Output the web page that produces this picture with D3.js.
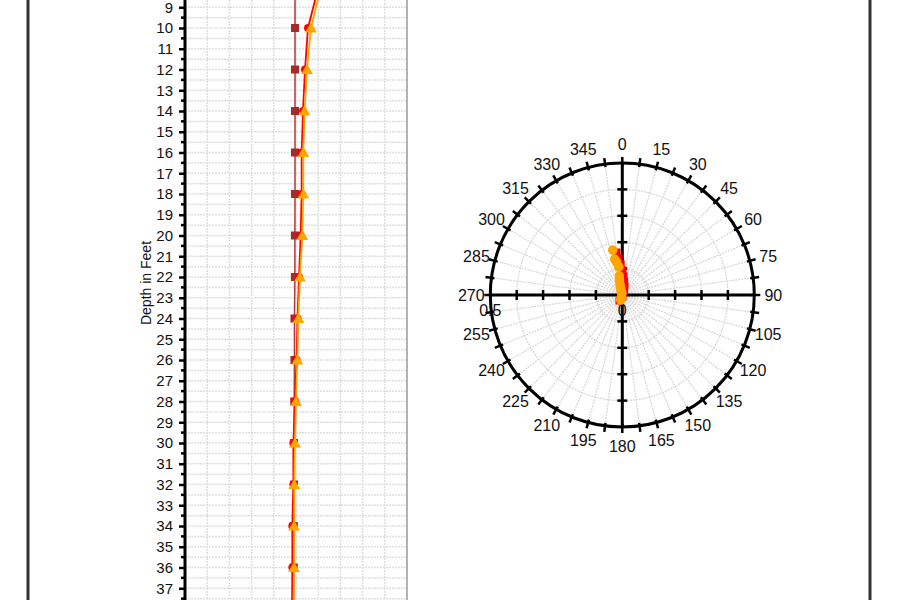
<!DOCTYPE html>
<html>
<head>
<meta charset="utf-8">
<script src="https://cdn.jsdelivr.net/npm/d3@7"></script>
<style>
  body { margin: 0; background: #fff; }
  svg { display: block; font-family: "Liberation Sans", Arial, sans-serif; }
</style>
</head>
<body>
<svg width="900" height="600"></svg>
<script>
// depth profile data (feet / inches)
const depths = [8, 10, 12, 14, 16, 18, 20, 22, 24, 26, 28, 30, 32, 34, 36, 38];
const initialReading = [-0.009, -0.009, -0.009, -0.009, -0.009, -0.009, -0.01, -0.01, -0.014, -0.014, -0.016, -0.018, -0.018, -0.02, -0.02, -0.02];
const readingA = [0.203, 0.108, 0.081, 0.063, 0.051, 0.051, 0.042, 0.027, 0.014, 0.005, -0.009, -0.024, -0.024, -0.033, -0.033, -0.036];
const readingB = [0.225, 0.135, 0.099, 0.077, 0.066, 0.066, 0.057, 0.036, 0.021, 0.012, 0.0, -0.009, -0.015, -0.018, -0.018, -0.023];
const depthLabels = [9, 10, 11, 12, 13, 14, 15, 16, 17, 18, 19, 20, 21, 22, 23, 24, 25, 26, 27, 28, 29, 30, 31, 32, 33, 34, 35, 36, 37];

// polar plot data (degrees / inches)
const polarAngleSq = [353, 355, 358, 1.6, 5, 9, 17, 29, 161, 210, 209];
const polarRadiusSq = [0.164, 0.141, 0.118, 0.095, 0.072, 0.054, 0.036, 0.017, 0.008, 0.017, 0.026];
const polarAngleCi = [348, 348, 350, 353, 351, 349, 348, 347, 345, 345, 340, 198, 197];
const polarRadiusCi = [0.174, 0.139, 0.127, 0.107, 0.073, 0.058, 0.043, 0.031, 0.02, 0.012, 0.005, 0.012, 0.02];
const angleLabels = [0, 15, 30, 45, 60, 75, 90, 105, 120, 135, 150, 165, 180, 195, 210, 225, 240, 255, 270, 285, 300, 315, 330, 345];

const svg = d3.select("svg");

// frame
svg.append("line").attr("x1", 28).attr("x2", 28).attr("y1", 0).attr("y2", 600)
    .attr("stroke", "#333").attr("stroke-width", 3);
svg.append("line").attr("x1", 870).attr("x2", 870).attr("y1", 0).attr("y2", 600)
    .attr("stroke", "#333").attr("stroke-width", 3);

/* depth plot */

const x = d3.scaleLinear().domain([-1, 1]).range([185, 407]);
const y = d3.scaleLinear().domain([0, 40]).range([-179.5, 650.5]);

const grid = svg.append("g").attr("class", "grid");
grid.selectAll("line.h")
    .data(d3.range(8.5, 38.01, 0.5))
    .enter().append("line")
    .attr("class", "h")
    .attr("x1", x(-1)).attr("x2", x(1))
    .attr("y1", d => y(d)).attr("y2", d => y(d))
    .attr("stroke", "#dedede").attr("stroke-width", 1.5)
    .attr("stroke-dasharray", "2,1");
grid.selectAll("line.v")
    .data(d3.range(-0.8, 0.81, 0.2))
    .enter().append("line")
    .attr("class", "v")
    .attr("x1", d => x(d)).attr("x2", d => x(d))
    .attr("y1", 0).attr("y2", 600)
    .attr("stroke", "#dedede").attr("stroke-width", 1.5)
    .attr("stroke-dasharray", "2,1");
grid.append("line")
    .attr("x1", x(1)).attr("x2", x(1)).attr("y1", 0).attr("y2", 600)
    .attr("stroke", "#999").attr("stroke-width", 1.5);

// y axis
const yAxis = svg.append("g")
    .attr("transform", `translate(${x(-1)},0)`)
    .call(d3.axisLeft(y).tickValues(depthLabels).tickSize(6).tickPadding(6).tickFormat(d3.format("d")));
yAxis.select(".domain").remove();
yAxis.selectAll(".tick line").attr("stroke-width", 2.5);
yAxis.selectAll(".tick text").attr("font-size", 15).attr("fill", "#111")
    .attr("font-family", "Liberation Sans, Arial, sans-serif");
yAxis.selectAll("line.minor")
    .data(d3.range(8.5, 38, 1))
    .enter().append("line")
    .attr("class", "minor")
    .attr("x1", -4).attr("x2", 0)
    .attr("y1", d => y(d)).attr("y2", d => y(d))
    .attr("stroke", "#000").attr("stroke-width", 2.5);
svg.append("line")
    .attr("x1", x(-1)).attr("x2", x(-1)).attr("y1", 0).attr("y2", 600)
    .attr("stroke", "#000").attr("stroke-width", 3);

svg.append("text")
    .attr("transform", `translate(151,283) rotate(-90)`)
    .attr("text-anchor", "middle")
    .attr("font-size", 14)
    .attr("fill", "#111")
    .text("Depth in Feet");

function drawSeries(values, color, lineWidth) {
  const line = d3.line()
      .x((d, i) => x(d))
      .y((d, i) => y(depths[i]));
  svg.append("path")
      .datum(values)
      .attr("fill", "none")
      .attr("stroke", color)
      .attr("stroke-width", lineWidth)
      .attr("d", line);
}

drawSeries(initialReading, "#b03a3a", 1.5);
svg.append("g").selectAll("rect")
    .data(initialReading)
    .enter().append("rect")
    .attr("x", d => x(d) - 4)
    .attr("y", (d, i) => y(depths[i]) - 4)
    .attr("width", 8).attr("height", 8)
    .attr("fill", "#a52a2a");

drawSeries(readingA, "#ff0000", 1.8);
svg.append("g").selectAll("circle")
    .data(readingA)
    .enter().append("circle")
    .attr("cx", d => x(d))
    .attr("cy", (d, i) => y(depths[i]))
    .attr("r", 4)
    .attr("fill", "#ff0000");

drawSeries(readingB, "#ffa500", 1.8);
svg.append("g").selectAll("path")
    .data(readingB)
    .enter().append("path")
    .attr("transform", (d, i) => `translate(${x(d)},${y(depths[i]) + 1})`)
    .attr("d", d3.symbol().type(d3.symbolTriangle).size(60))
    .attr("fill", "#ffa500");

/* polar plot */

const cx = 622.3, cy = 295;
const r = d3.scaleLinear().domain([0, 0.5]).range([0, 132]);
const polar = svg.append("g").attr("transform", `translate(${cx},${cy})`);
const rad = a => a * Math.PI / 180;

polar.selectAll("line.spoke")
    .data(d3.range(0, 360, 7.5))
    .enter().append("line")
    .attr("class", "spoke")
    .attr("x1", 0).attr("y1", 0)
    .attr("x2", d => r(0.5) * Math.sin(rad(d)))
    .attr("y2", d => -r(0.5) * Math.cos(rad(d)))
    .attr("stroke", "#d8d8d8").attr("stroke-width", 1.3)
    .attr("stroke-dasharray", "2,1");
polar.selectAll("circle.ring")
    .data([0.1, 0.2, 0.3, 0.4])
    .enter().append("circle")
    .attr("class", "ring")
    .attr("r", d => r(d))
    .attr("fill", "none")
    .attr("stroke", "#d8d8d8").attr("stroke-width", 1.3)
    .attr("stroke-dasharray", "2,1");
polar.append("circle")
    .attr("r", r(0.5))
    .attr("fill", "none")
    .attr("stroke", "#000").attr("stroke-width", 3);

// outer ticks
polar.selectAll("line.otick")
    .data(d3.range(0, 360, 7.5))
    .enter().append("line")
    .attr("class", "otick")
    .attr("x1", d => (r(0.5) - 3) * Math.sin(rad(d)))
    .attr("y1", d => -(r(0.5) - 3) * Math.cos(rad(d)))
    .attr("x2", d => (r(0.5) + 6) * Math.sin(rad(d)))
    .attr("y2", d => -(r(0.5) + 6) * Math.cos(rad(d)))
    .attr("stroke", "#000").attr("stroke-width", 2.5);

// crosshair axes
polar.append("line").attr("x1", -r(0.5)).attr("x2", r(0.5)).attr("y1", 0).attr("y2", 0)
    .attr("stroke", "#000").attr("stroke-width", 3);
polar.append("line").attr("y1", -r(0.5)).attr("y2", r(0.5)).attr("x1", 0).attr("x2", 0)
    .attr("stroke", "#000").attr("stroke-width", 3);
const rTicks = [-0.4, -0.3, -0.2, -0.1, 0.1, 0.2, 0.3, 0.4];
polar.selectAll("line.hx")
    .data(rTicks)
    .enter().append("line")
    .attr("class", "hx")
    .attr("x1", d => Math.sign(d) * r(Math.abs(d))).attr("x2", d => Math.sign(d) * r(Math.abs(d)))
    .attr("y1", -5).attr("y2", 5)
    .attr("stroke", "#000").attr("stroke-width", 2.5);
polar.selectAll("line.vy")
    .data(rTicks)
    .enter().append("line")
    .attr("class", "vy")
    .attr("y1", d => Math.sign(d) * r(Math.abs(d))).attr("y2", d => Math.sign(d) * r(Math.abs(d)))
    .attr("x1", -5).attr("x2", 5)
    .attr("stroke", "#000").attr("stroke-width", 2.5);

polar.selectAll("text.ang")
    .data(angleLabels)
    .enter().append("text")
    .attr("class", "ang")
    .attr("x", d => 151 * Math.sin(rad(d)))
    .attr("y", d => -151 * Math.cos(rad(d)))
    .attr("dy", "0.35em")
    .attr("text-anchor", "middle")
    .attr("font-size", 16)
    .attr("fill", "#111")
    .text(d => d);

polar.selectAll("text.rad")
    .data([0, 0.5])
    .enter().append("text")
    .attr("class", "rad")
    .attr("x", d => -r(d))
    .attr("y", 21)
    .attr("text-anchor", "middle")
    .attr("font-size", 16)
    .attr("fill", "#111")
    .text(d => d);

// data points
polar.selectAll("rect.pt")
    .data(polarAngleSq)
    .enter().append("rect")
    .attr("class", "pt")
    .attr("x", (d, i) => r(polarRadiusSq[i]) * Math.sin(rad(d)) - 3.5)
    .attr("y", (d, i) => -r(polarRadiusSq[i]) * Math.cos(rad(d)) - 3.5)
    .attr("width", 7).attr("height", 7)
    .attr("fill", "#ff0000");
polar.selectAll("circle.pt")
    .data(polarAngleCi)
    .enter().append("circle")
    .attr("class", "pt")
    .attr("cx", (d, i) => r(polarRadiusCi[i]) * Math.sin(rad(d)))
    .attr("cy", (d, i) => -r(polarRadiusCi[i]) * Math.cos(rad(d)))
    .attr("r", 4.8)
    .attr("fill", "#ffa500");
</script>
</body>
</html>
